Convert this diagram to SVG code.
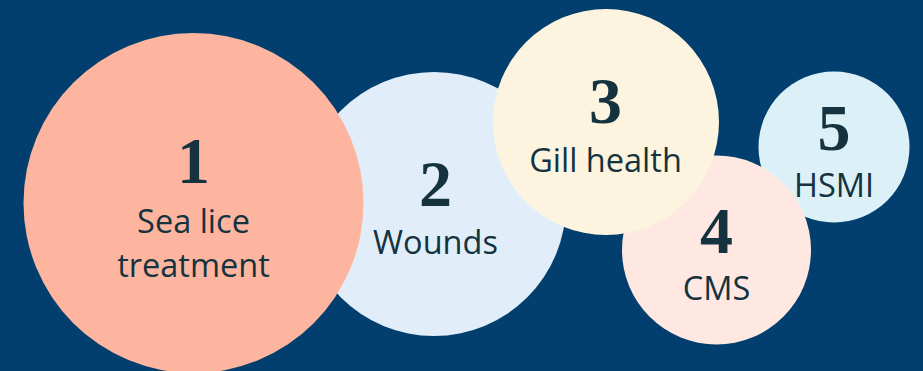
<svg xmlns="http://www.w3.org/2000/svg" width="923" height="371" viewBox="0 0 923 371">
<style>
.num{font-family:"Liberation Serif","Times New Roman",serif;font-weight:bold;font-size:66px;fill:#14333f;text-anchor:middle}
.lbl{font-family:"Open Sans","Noto Sans",sans-serif;font-size:32.5px;fill:#14333f;text-anchor:middle}
</style>
<rect width="923" height="371" fill="#023f6e"/>
<g id="node2">
<circle cx="434" cy="204" r="132" fill="#e1eef9"/>
<text class="num" x="435.5" y="205.5">2</text>
<text class="lbl" x="435.5" y="254">Wounds</text>
</g>
<g id="node1">
<circle cx="193.5" cy="203" r="170" fill="#feb5a0"/>
<text class="num" x="193.5" y="183">1</text>
<text class="lbl" x="193.5" y="232.5">Sea lice</text>
<text class="lbl" x="193.5" y="276.5">treatment</text>
</g>
<g id="node5">
<circle cx="834" cy="147" r="75.5" fill="#dcf0f8"/>
<text class="num" x="834" y="150">5</text>
<text class="lbl" x="834" y="197">HSMI</text>
</g>
<g id="node4">
<circle cx="716.5" cy="250" r="94.5" fill="#fee8e1"/>
<text class="num" x="716.5" y="253">4</text>
<text class="lbl" x="716.5" y="300">CMS</text>
</g>
<g id="node3">
<circle cx="606" cy="122" r="113" fill="#fcf4de"/>
<text class="num" x="605.5" y="123">3</text>
<text class="lbl" x="605.5" y="172">Gill health</text>
</g>
<g id="connectors"></g>
</svg>
